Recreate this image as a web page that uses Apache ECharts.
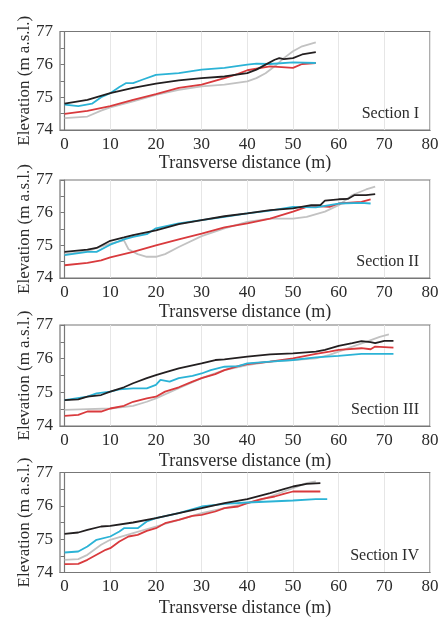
<!DOCTYPE html>
<html>
<head>
<meta charset="utf-8">
<script src="https://cdn.jsdelivr.net/npm/echarts@6/dist/echarts.min.js"></script>
<style>
  html, body { margin: 0; padding: 0; background: #fff; }
  #chart { width: 448px; height: 619px; }
</style>
</head>
<body>
<div id="chart"></div>
<script>
// Axis ticks
const distanceTicks = [0, 10, 20, 30, 40, 50, 60, 70, 80];
const elevationLabels = [74, 75, 76, 77];
const sectionNames = ['Section I', 'Section II', 'Section III', 'Section IV'];

// Cross-section profiles: [transverse distance (m), elevation (m a.s.l.)]
// Section I
const s1Black = [[0,74.80],[5,74.92],[10,75.12],[15,75.28],[20,75.41],[25,75.51],[30,75.58],[35,75.63],[40,75.73],[42,75.84],[44,75.99],[46,76.14],[47,76.19],[48,76.16],[50,76.19],[52,76.30],[55,76.37]];
const s1Cyan  = [[0,74.77],[3,74.73],[6,74.80],[8,75.00],[10,75.12],[12,75.31],[13.5,75.43],[15,75.43],[17,75.53],[20,75.68],[25,75.73],[30,75.84],[35,75.89],[40,75.99],[42,76.02],[45,76.01],[50,76.06],[55,76.04]];
const s1Red   = [[0,74.49],[5,74.58],[10,74.73],[15,74.92],[20,75.09],[25,75.28],[30,75.38],[35,75.58],[38,75.71],[40,75.82],[43,75.89],[45,75.94],[50,75.89],[52,76.01],[55,76.04]];
const s1Gray  = [[0,74.36],[5,74.41],[8,74.59],[10,74.69],[15,74.87],[20,75.07],[25,75.22],[30,75.33],[35,75.38],[40,75.48],[42,75.58],[44,75.73],[46,75.94],[48,76.19],[50,76.40],[52,76.55],[55,76.67]];
// Section II
const s2Black = [[0,74.80],[5,74.87],[7,74.92],[10,75.14],[13,75.24],[15,75.31],[20,75.46],[25,75.65],[30,75.77],[35,75.89],[40,75.98],[45,76.08],[50,76.13],[54,76.23],[56,76.23],[57,76.37],[60,76.41],[62,76.42],[63.5,76.54],[66,76.54],[68,76.57]];
const s2Cyan  = [[0,74.70],[5,74.80],[7,74.80],[10,75.02],[13,75.18],[15,75.26],[18,75.34],[20,75.52],[25,75.67],[30,75.77],[35,75.87],[40,75.98],[45,76.06],[50,76.18],[55,76.16],[60,76.28],[65,76.30],[67,76.28]];
const s2Red   = [[0,74.39],[5,74.46],[8,74.54],[10,74.63],[15,74.80],[20,75.00],[25,75.18],[30,75.36],[35,75.55],[40,75.67],[45,75.82],[50,76.03],[53,76.18],[55,76.20],[58,76.18],[60,76.28],[65,76.33],[67,76.41]];
const s2Gray  = [[0,74.72],[5,74.82],[10,75.05],[13,75.15],[14,74.88],[16,74.73],[18,74.65],[20,74.65],[22,74.73],[25,74.95],[30,75.28],[35,75.52],[40,75.72],[45,75.82],[50,75.82],[53,75.87],[57,76.03],[60,76.23],[63,76.54],[66,76.71],[68,76.80]];
// Section III
const s3Black = [[0,74.77],[3,74.79],[5,74.87],[8,74.92],[10,75.02],[13,75.15],[15,75.27],[18,75.42],[20,75.51],[22,75.59],[25,75.71],[30,75.86],[33,75.96],[35,75.98],[40,76.06],[45,76.13],[50,76.16],[55,76.21],[57,76.26],[60,76.38],[63,76.46],[65,76.52],[67,76.49],[68,76.46],[70,76.53],[72,76.53]];
const s3Cyan  = [[0,74.77],[5,74.87],[7,74.97],[10,75.02],[12,75.09],[15,75.12],[18,75.12],[20,75.22],[21,75.37],[23,75.32],[25,75.42],[28,75.49],[30,75.56],[32,75.66],[35,75.76],[38,75.78],[40,75.86],[45,75.91],[50,75.96],[55,76.04],[60,76.08],[65,76.14],[72,76.14]];
const s3Red   = [[0,74.30],[3,74.33],[5,74.43],[8,74.43],[10,74.52],[13,74.60],[15,74.72],[18,74.82],[20,74.87],[22,75.02],[25,75.15],[28,75.32],[30,75.42],[33,75.54],[35,75.66],[38,75.78],[40,75.84],[45,75.91],[50,76.01],[55,76.14],[58,76.21],[60,76.26],[65,76.31],[67,76.28],[68,76.36],[72,76.33]];
const s3Gray  = [[0,74.48],[5,74.50],[10,74.52],[15,74.60],[18,74.72],[20,74.82],[25,75.12],[30,75.42],[35,75.66],[40,75.81],[45,75.91],[50,75.96],[55,76.01],[58,76.11],[60,76.21],[63,76.36],[66,76.50],[69,76.65],[71,76.72]];
// Section IV
const s4Black = [[0,75.16],[3,75.20],[5,75.28],[8,75.38],[10,75.40],[15,75.50],[20,75.63],[25,75.78],[30,75.93],[35,76.08],[40,76.20],[45,76.38],[48,76.50],[50,76.58],[53,76.66],[56,76.68]];
const s4Cyan  = [[0,74.60],[3,74.63],[5,74.78],[7,74.98],[10,75.08],[12,75.23],[13,75.33],[16,75.33],[18,75.53],[20,75.63],[25,75.78],[30,75.98],[35,76.06],[40,76.10],[45,76.13],[50,76.16],[55,76.20],[57.5,76.20]];
const s4Red   = [[0,74.25],[3,74.26],[5,74.38],[7,74.53],[9,74.68],[10,74.73],[12,74.93],[14,75.08],[16,75.13],[18,75.25],[20,75.33],[22,75.48],[25,75.58],[28,75.70],[30,75.73],[33,75.83],[35,75.93],[38,75.98],[40,76.08],[43,76.20],[46,76.28],[48,76.36],[50,76.43],[56,76.43]];
const s4Gray  = [[0,74.38],[3,74.40],[5,74.53],[8,74.83],[10,74.98],[15,75.18],[20,75.38],[25,75.58],[30,75.78],[35,75.93],[40,76.08],[43,76.18],[45,76.28],[48,76.43],[50,76.53],[53,76.68],[55,76.73]];

const sections = [
  { gray: s1Gray, red: s1Red, cyan: s1Cyan, black: s1Black },
  { gray: s2Gray, red: s2Red, cyan: s2Cyan, black: s2Black },
  { gray: s3Gray, red: s3Red, cyan: s3Cyan, black: s3Black },
  { gray: s4Gray, red: s4Red, cyan: s4Cyan, black: s4Black }
];

const lineColors = { gray: '#c2c2c2', red: '#d93a3d', cyan: '#2bb3d6', black: '#231f20' };
const drawOrder = ['gray', 'red', 'cyan', 'black'];

const FONT = '"Liberation Serif", "Times New Roman", serif';
const TEXT = '#2b2b2b';
const FRAME = '#777777';
// panel placement
const panelTops = [31.5, 180, 325, 472.5];
const panelHeights = [98.5, 98, 101, 100];
const xNameGaps = [24, 25, 26, 27];

const grids = [], xAxes = [], yAxes = [], series = [], titles = [];

panelTops.forEach((top, i) => {
  const h = panelHeights[i];
  grids.push({
    left: 60, right: 18, top: top, height: h,
    show: true, borderColor: FRAME, borderWidth: 1.2, backgroundColor: 'transparent'
  });
  xAxes.push({
    gridIndex: i, type: 'value', min: -1, max: 80,
    name: 'Transverse distance (m)', nameLocation: 'middle', nameGap: xNameGaps[i],
    nameTextStyle: { fontFamily: FONT, fontSize: 18, color: TEXT },
    axisLine: { show: true, lineStyle: { color: FRAME, width: 1.2 } },
    axisTick: { show: false, customValues: distanceTicks },
    axisLabel: { customValues: distanceTicks, margin: 6, fontFamily: FONT, fontSize: 17, color: TEXT },
    splitLine: { show: true, lineStyle: { color: '#e6e6e6', width: 1 } }
  });
  yAxes.push({
    gridIndex: i, type: 'value', min: 74, max: 77, interval: 0.5,
    name: 'Elevation (m a.s.l.)', nameLocation: 'middle', nameGap: 27, nameRotate: 90,
    nameMoveOverlap: false,
    nameTextStyle: { fontFamily: FONT, fontSize: 17, color: TEXT },
    axisLine: { show: true, lineStyle: { color: FRAME, width: 1.2 } },
    axisTick: { show: true, inside: false, length: 4, lineStyle: { color: FRAME, width: 1 } },
    axisLabel: {
      margin: 7, fontFamily: FONT, fontSize: 17, color: TEXT,
      formatter: v => (elevationLabels.includes(v) ? String(v) : '')
    },
    splitLine: { show: false }
  });
  titles.push({
    text: sectionNames[i], right: 24, top: top + h - 29.5,
    textStyle: { fontFamily: FONT, fontSize: 16, fontWeight: 'normal', color: TEXT }
  });
  drawOrder.forEach(key => {
    series.push({
      type: 'line', xAxisIndex: i, yAxisIndex: i,
      data: sections[i][key], showSymbol: false, symbol: 'none', smooth: false,
      lineStyle: { color: lineColors[key], width: 1.8 },
      silent: true, animation: false
    });
  });
});

const chart = echarts.init(document.getElementById('chart'), null, { renderer: 'canvas' });
chart.setOption({
  backgroundColor: '#fff',
  animation: false,
  title: titles,
  grid: grids,
  xAxis: xAxes,
  yAxis: yAxes,
  series: series
});
</script>
</body>
</html>
